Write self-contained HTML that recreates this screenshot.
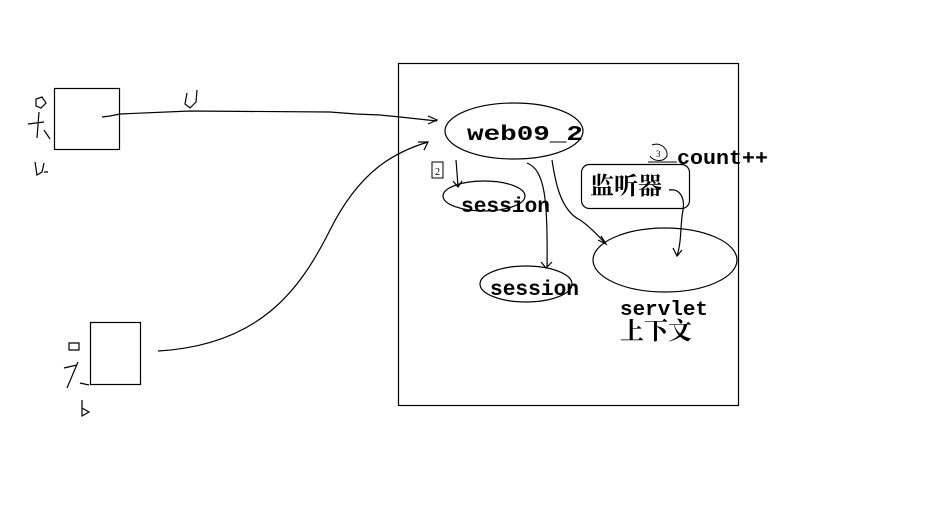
<!DOCTYPE html>
<html><head><meta charset="utf-8"><style>
html,body{margin:0;padding:0;background:#fff;}
svg{display:block;}
.t{font-family:"Liberation Mono","Noto Serif CJK SC",monospace;font-weight:bold;fill:#000;}
.c{font-family:"Liberation Serif","Noto Serif CJK SC",serif;fill:#000;}
</style></head><body>
<svg width="933" height="531" viewBox="0 0 933 531" xmlns="http://www.w3.org/2000/svg">
<rect width="933" height="531" fill="#fff"/>
<g fill="none" stroke="#000" stroke-width="1.2">
<rect x="398.5" y="63.5" width="340" height="342"/>
<rect x="54.5" y="88.5" width="65" height="61"/>
<rect x="90.5" y="322.5" width="50" height="62"/>
<path d="M36,106 L36,99 L42,97 L46,103 L41,108 Z"/>
<path d="M28,124 L44,122 M39,112 L37,138 M44,130 L50,139"/>
<path d="M35,162 L37,175 L42,172 L44,163 M44,172 L48,172"/>
<path d="M69,343 L79,343 L79,350 L69,350 Z"/>
<path d="M64,368 L77,365 M78,362 L67,388 M80,383 L89,385"/>
<path d="M82,400 L82,416 L89,412 L82,408"/>
<path d="M187,93 L185,104 L190,108 L196,102 L197,90"/>
<path d="M102,117 L110,116 L120,114 L190,111 L330,112 L356,114 L380,115 L400,117 L437,121"/>
<path d="M428,116 L437,120 L428,124"/>
<path d="M158,351 C260,345 300,290 330,230 C360,170 395,152 428,142"/>
<path d="M418,142 L428,142 L424,150"/>
<path d="M456,160 L458,186 M453,181 L458,187 L462,181"/>
<path d="M527,163 C545,170 548,200 547,268 M541,262 L546,268 L552,262"/>
<path d="M552,160 C555,180 560,210 580,220 C592,228 600,238 606,244 M598,240 L606,244 L601,236"/>
<path d="M669,190 C680,188 685,198 683,210 C680,225 682,240 677,256 M673,248 L677,256 L682,250"/>
<ellipse cx="514" cy="131" rx="69" ry="28"/>
<ellipse cx="484" cy="196" rx="41" ry="15"/>
<ellipse cx="526" cy="284" rx="46" ry="18"/>
<ellipse cx="665" cy="260" rx="72" ry="32"/>
<rect x="581.5" y="164.5" width="108" height="44" rx="8"/>
<path d="M432,162 L443,162 L443,178 L432,178 Z" stroke-width="1"/>
<path d="M652,145 C660,142 668,148 667,156 C664,162 654,162 650,156" stroke-width="1"/>
<path d="M648,162 L677,162" stroke-width="1"/>
</g>
<text class="t" x="467" y="140" font-size="21" textLength="116" lengthAdjust="spacingAndGlyphs">web09_2</text>
<text class="t" x="461" y="212" font-size="21" textLength="89" lengthAdjust="spacingAndGlyphs">session</text>
<text class="t" x="490" y="295" font-size="21" textLength="89" lengthAdjust="spacingAndGlyphs">session</text>
<text class="t" x="677" y="164" font-size="20" textLength="91" lengthAdjust="spacingAndGlyphs">count++</text>
<text class="t" x="620" y="315" font-size="20" textLength="88" lengthAdjust="spacingAndGlyphs">servlet</text>
<text class="c" x="620" y="339" font-size="24" font-weight="bold" textLength="72" lengthAdjust="spacingAndGlyphs">上下文</text>
<text class="c" x="590" y="194" font-size="24" font-weight="bold" textLength="72" lengthAdjust="spacingAndGlyphs">监听器</text>
<text class="c" x="435" y="175" font-size="10">2</text>
<text class="c" x="656" y="157" font-size="9">3</text>
</svg>
</body></html>
